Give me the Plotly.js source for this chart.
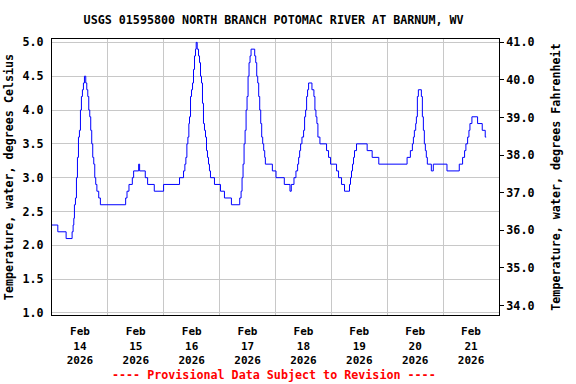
<!DOCTYPE html>
<html>
<head>
<meta charset="utf-8">
<script src="https://cdn.plot.ly/plotly-3.0.1.min.js"></script>
<style>html,body{margin:0;padding:0;background:#fff;}#chart{width:576px;height:384px;}</style>
</head>
<body>
<div id="chart"></div>
<script>
// Hours since 2026-02-14 00:00 at which the reading changes, and the reading (deg C)
const hours = [0, 2.5, 6.07, 8.64, 9.07, 9.36, 9.64, 10.07, 10.5, 10.93, 11.36, 11.79, 12.21, 12.64, 13.07, 13.5, 13.93, 14.5, 14.93, 15.36, 15.79, 16.21, 16.64, 17.07, 17.5, 17.93, 18.36, 18.79, 19.29, 20.07, 20.79,
  31.64, 32.22, 33.07, 34.5, 35.07, 37.21, 37.64, 40.07, 41.07, 43.93, 47.93, 54.79, 56.5, 57.07, 57.5, 57.93, 58.36, 58.79, 59.07, 59.5, 59.93, 60.36, 60.79, 61.21, 61.64, 61.93, 62.36, 62.93, 63.36, 63.79, 64.21, 64.64, 65.07, 65.5, 65.93, 66.36, 66.79, 67.21, 67.64, 68.07, 69.79,
  72.36, 74.07, 77.07, 80.64, 81.21, 81.64, 82.07, 82.5, 82.93, 83.36, 83.79, 84.21, 84.64, 85.07, 85.5, 87.07, 87.5, 87.93, 88.36, 88.79, 89.22, 89.65, 90.07, 90.5, 90.93, 91.36, 91.65, 94.65,
  96.22, 99.79, 102.22, 102.79, 103.93, 104.79, 105.5, 105.93, 106.36, 106.79, 107.36, 108.07, 108.5, 108.93, 109.36, 109.79, 110.22, 111.65, 112.5, 112.93, 113.36, 113.79, 114.22, 115.08, 117.94, 118.79, 119.65,
  122.22, 123.08, 124.37, 125.65, 127.79, 128.22, 128.65, 129.08, 129.51, 129.94, 130.8, 135.36, 137.51, 140.37,
  152.51, 153.94, 154.8, 155.23, 155.65, 156.22, 156.51, 156.94, 157.37, 158.65, 159.08, 159.51, 159.94, 160.37, 160.79, 161.22, 162.94, 163.79, 169.65,
  174.94, 176.37, 177.22, 177.79, 178.51, 179.08, 179.51, 180.37, 182.8, 184.8, 186.08, 186.5];
const tempC = [2.3, 2.2, 2.1, 2.2, 2.3, 2.4, 2.6, 2.7, 3.0, 3.3, 3.6, 3.7, 4.0, 4.2, 4.3, 4.4, 4.5, 4.4, 4.3, 4.2, 4.0, 3.9, 3.7, 3.5, 3.3, 3.2, 3.0, 2.9, 2.8, 2.7, 2.6,
  2.7, 2.8, 2.9, 3.0, 3.1, 3.2, 3.1, 3.0, 2.9, 2.8, 2.9, 3.0, 3.1, 3.2, 3.3, 3.5, 3.6, 3.8, 3.9, 4.2, 4.3, 4.4, 4.6, 4.8, 4.9, 5.0, 4.9, 4.8, 4.7, 4.5, 4.4, 4.1, 3.8, 3.7, 3.6, 3.4, 3.3, 3.2, 3.1, 3.0, 2.9,
  2.8, 2.7, 2.6, 2.7, 2.8, 3.0, 3.2, 3.5, 3.7, 4.0, 4.2, 4.5, 4.7, 4.8, 4.9, 4.8, 4.7, 4.5, 4.4, 4.2, 4.0, 3.8, 3.6, 3.5, 3.4, 3.3, 3.2, 3.1,
  3.0, 2.9, 2.8, 2.9, 3.0, 3.1, 3.2, 3.3, 3.4, 3.5, 3.6, 3.7, 3.9, 4.0, 4.2, 4.3, 4.4, 4.3, 4.2, 4.0, 3.9, 3.8, 3.6, 3.5, 3.4, 3.3, 3.2,
  3.1, 3.0, 2.9, 2.8, 2.9, 3.0, 3.1, 3.2, 3.3, 3.4, 3.5, 3.4, 3.3, 3.2,
  3.3, 3.4, 3.5, 3.6, 3.7, 3.8, 3.9, 4.2, 4.3, 4.2, 3.9, 3.7, 3.5, 3.4, 3.3, 3.2, 3.1, 3.2, 3.1,
  3.2, 3.3, 3.4, 3.5, 3.6, 3.7, 3.8, 3.9, 3.8, 3.7, 3.6, 3.6];

const tickDates = ['2026-02-14 12:00', '2026-02-15 12:00', '2026-02-16 12:00', '2026-02-17 12:00', '2026-02-18 12:00', '2026-02-19 12:00', '2026-02-20 12:00', '2026-02-21 12:00'];
const tickLabels = ['Feb<br>14<br>2026', 'Feb<br>15<br>2026', 'Feb<br>16<br>2026', 'Feb<br>17<br>2026', 'Feb<br>18<br>2026', 'Feb<br>19<br>2026', 'Feb<br>20<br>2026', 'Feb<br>21<br>2026'];

function toDate(h) {
  const ms = Date.UTC(2026, 1, 14) + Math.round(h * 60) * 60000;
  return new Date(ms).toISOString().slice(0, 16).replace('T', ' ');
}

const yMin = 0.97, yMax = 5.05;
const F = 'DejaVu Sans Mono';
const fnt = (s, c) => ({family: F, size: s, color: c || '#000', weight: 'bold'});

const traces = [
  {x: hours.map(toDate), y: tempC, type: 'scatter', mode: 'lines', line: {color: '#0000ff', width: 1, shape: 'hv'}, showlegend: false, hoverinfo: 'skip'},
  {x: [null], y: [null], yaxis: 'y2', type: 'scatter', mode: 'lines', showlegend: false, hoverinfo: 'skip'}
];

const layout = {
  width: 576, height: 384,
  margin: {l: 52, r: 77, t: 39, b: 69},
  paper_bgcolor: '#fff', plot_bgcolor: '#fff',
  title: {text: 'USGS 01595800 NORTH BRANCH POTOMAC RIVER AT BARNUM, WV', font: fnt(11.7), x: 0.475, xanchor: 'center', y: 1 - 20 / 384, yanchor: 'middle', yref: 'container'},
  xaxis: {
    type: 'date', range: ['2026-02-14 00:00', '2026-02-22 00:00'],
    tickmode: 'array', tickvals: tickDates, ticktext: tickLabels,
    showgrid: false, ticks: 'outside', ticklen: 6, tickcolor: 'rgba(0,0,0,0)',
    minor: {tickmode: 'linear', tick0: '2026-02-14', dtick: 86400000, showgrid: true, gridcolor: '#c8c8c8', gridwidth: 1, ticks: ''},
    showline: true, mirror: true, linecolor: '#000', linewidth: 1, zeroline: false,
    tickfont: fnt(11), fixedrange: true
  },
  yaxis: {
    range: [yMin, yMax], tickmode: 'linear', tick0: 1, dtick: 0.5, tickformat: '.1f',
    showgrid: true, gridcolor: '#c8c8c8', gridwidth: 1, zeroline: false,
    showline: true, mirror: true, linecolor: '#000', linewidth: 1,
    ticks: 'outside', ticklen: 5, tickcolor: 'rgba(0,0,0,0)',
    tickfont: fnt(11.7),
    title: {text: 'Temperature, water, degrees Celsius', font: fnt(11.7), standoff: 6}
  },
  yaxis2: {
    overlaying: 'y', side: 'right',
    range: [yMin * 1.8 + 32, yMax * 1.8 + 32], tickmode: 'linear', tick0: 34, dtick: 1, tickformat: '.1f',
    showgrid: false, zeroline: false, showline: false,
    ticks: 'outside', ticklen: 4, tickcolor: '#000', tickwidth: 1,
    tickfont: fnt(11.7),
    title: {text: 'Temperature, water, degrees Fahrenheit', font: fnt(11.7), standoff: 18}
  },
  annotations: [
    {text: '---- Provisional Data Subject to Revision ----', xref: 'paper', yref: 'paper', x: 0.497, y: (315 - 375) / 276, xanchor: 'center', yanchor: 'middle', showarrow: false, font: fnt(11.7, '#ff0000')}
  ]
};

Plotly.newPlot('chart', traces, layout, {staticPlot: true, displayModeBar: false});
</script>
</body>
</html>
